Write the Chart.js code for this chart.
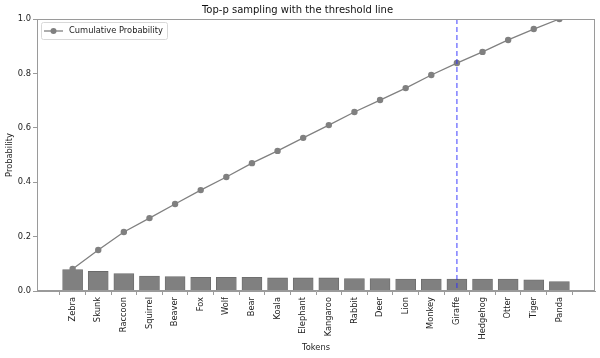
<!DOCTYPE html>
<html lang="en">
<head>
    <meta charset="UTF-8">
    <title>Top-p sampling</title>
    <script src="https://cdn.jsdelivr.net/npm/chart.js@4.4.0/dist/chart.umd.min.js"></script>
    <style>
        * { margin: 0; padding: 0; box-sizing: border-box; }
        body { background: #fff; width: 600px; height: 358px; overflow: hidden; }
        #wrap { position: relative; width: 600px; height: 358px; }
    </style>
</head>
<body>
    <div id="wrap"><canvas id="chart" width="600" height="358"></canvas></div>
    <script>
        // Data
        const tokens = ['Zebra', 'Skunk', 'Raccoon', 'Squirrel', 'Beaver', 'Fox', 'Wolf', 'Bear', 'Koala', 'Elephant',
            'Kangaroo', 'Rabbit', 'Deer', 'Lion', 'Monkey', 'Giraffe', 'Hedgehog', 'Otter', 'Tiger', 'Panda'];
        const probabilities = [0.079, 0.072, 0.064, 0.055, 0.053, 0.050, 0.050, 0.050, 0.048, 0.048,
            0.048, 0.046, 0.046, 0.044, 0.044, 0.044, 0.044, 0.044, 0.041, 0.035];
        const cumulative = [0.081, 0.151, 0.217, 0.268, 0.320, 0.371, 0.419, 0.470, 0.515, 0.563,
            0.610, 0.658, 0.702, 0.746, 0.794, 0.838, 0.879, 0.923, 0.963, 1.0];
        const thresholdIndex = 15;
        const yTicks = [0, 0.2, 0.4, 0.6, 0.8, 1.0];

        const font = 'DejaVu Sans';
        const small = 8.3;
        const spine = '#9a9a9a';

        // spines on all four sides + threshold line + legend inside the axes
        const extras = {
            id: 'extras',
            afterDatasetsDraw(chart) {
                const { ctx, chartArea: a, scales } = chart;
                const x = scales.x.getPixelForValue(thresholdIndex);
                ctx.save();
                ctx.strokeStyle = 'rgba(40,40,255,0.75)';
                ctx.lineWidth = 1.2;
                ctx.setLineDash([5, 3]);
                ctx.beginPath();
                ctx.moveTo(x, a.top);
                ctx.lineTo(x, a.bottom);
                ctx.stroke();
                ctx.restore();
            },
            afterDraw(chart) {
                const { ctx, chartArea: a } = chart;
                ctx.save();
                ctx.strokeStyle = spine;
                ctx.lineWidth = 1;
                ctx.strokeRect(Math.round(a.left) + 0.5, Math.round(a.top) + 0.5,
                    Math.round(a.right - a.left) - 1, Math.round(a.bottom - a.top) - 1);

                // legend
                const lx = a.left + 4, ly = a.top + 3, w = 126, h = 17;
                const cy = ly + h / 2 + 0.5;
                ctx.fillStyle = 'rgba(255,255,255,0.85)';
                ctx.strokeStyle = '#d8d8d8';
                ctx.beginPath();
                ctx.roundRect(lx + 0.5, ly + 0.5, w, h, 2);
                ctx.fill();
                ctx.stroke();
                ctx.strokeStyle = '#808080';
                ctx.lineWidth = 1.3;
                ctx.beginPath();
                ctx.moveTo(lx + 3, cy);
                ctx.lineTo(lx + 22, cy);
                ctx.stroke();
                ctx.fillStyle = '#808080';
                ctx.beginPath();
                ctx.arc(lx + 12.5, cy, 3, 0, Math.PI * 2);
                ctx.fill();
                ctx.fillStyle = '#222';
                ctx.font = small + 'px "' + font + '"';
                ctx.textBaseline = 'middle';
                ctx.fillText('Cumulative Probability', lx + 28, cy);
                ctx.restore();
            }
        };

        new Chart(document.getElementById('chart'), {
            data: {
                datasets: [
                    {
                        type: 'line',
                        label: 'Cumulative Probability',
                        data: cumulative.map((v, i) => ({ x: i, y: v })),
                        borderColor: '#808080',
                        backgroundColor: '#808080',
                        borderWidth: 1.3,
                        pointRadius: 3.2,
                        pointBorderWidth: 0,
                        tension: 0
                    },
                    {
                        type: 'bar',
                        label: 'Probability',
                        data: probabilities.map((v, i) => ({ x: i, y: v })),
                        backgroundColor: '#808080',
                        borderColor: '#6a6a6a',
                        borderWidth: 0.8,
                        barThickness: 20
                    }
                ]
            },
            options: {
                responsive: false,
                animation: false,
                layout: { padding: { left: 0, right: 5, top: 0, bottom: 0 } },
                plugins: {
                    legend: { display: false },
                    tooltip: { enabled: false },
                    title: {
                        display: true,
                        text: 'Top-p sampling with the threshold line',
                        color: '#111',
                        font: { family: font, size: 10, weight: 'normal' },
                        padding: { top: 4, bottom: 3 }
                    }
                },
                scales: {
                    x: {
                        type: 'linear',
                        min: -1.39,
                        max: 20.39,
                        offset: false,
                        afterBuildTicks(scale) {
                            scale.ticks = tokens.map((t, i) => ({ value: i }));
                        },
                        afterFit(scale) { scale.height = 67; },
                        ticks: {
                            autoSkip: false,
                            minRotation: 90,
                            maxRotation: 90,
                            padding: 2,
                            color: '#222',
                            font: { family: font, size: small },
                            callback: (v) => tokens[v]
                        },
                        grid: { drawOnChartArea: false, tickLength: 4, color: spine },
                        border: { color: spine },
                        title: {
                            display: true,
                            text: 'Tokens',
                            color: '#222',
                            font: { family: font, size: small },
                            padding: { top: 0, bottom: 5 }
                        }
                    },
                    y: {
                        min: 0,
                        max: 1,
                        afterBuildTicks(scale) {
                            scale.ticks = yTicks.map(v => ({ value: v }));
                        },
                        afterFit(scale) { scale.width = 37; },
                        ticks: {
                            padding: 2,
                            color: '#222',
                            font: { family: font, size: small },
                            callback: (v) => v.toFixed(1)
                        },
                        grid: { drawOnChartArea: false, tickLength: 4, color: spine },
                        border: { color: spine },
                        title: {
                            display: true,
                            text: 'Probability',
                            color: '#222',
                            font: { family: font, size: small },
                            padding: { top: 5, bottom: 4 }
                        }
                    }
                }
            },
            plugins: [extras]
        });
    </script>
</body>
</html>
